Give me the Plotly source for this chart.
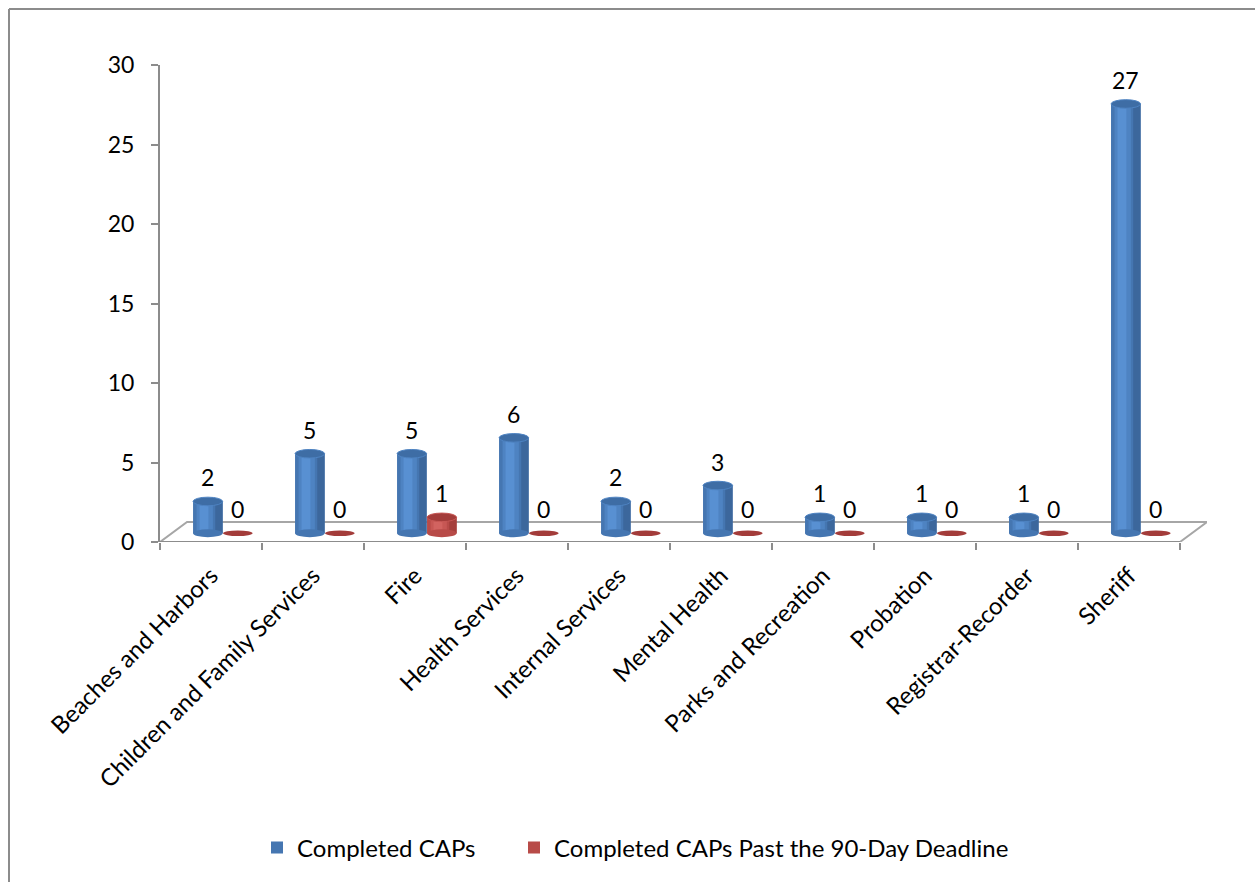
import plotly.graph_objects as go

categories = ["Beaches and Harbors", "Children and Family Services", "Fire",
              "Health Services", "Internal Services", "Mental Health",
              "Parks and Recreation", "Probation", "Registrar-Recorder", "Sheriff"]
completed = [2, 5, 5, 6, 2, 3, 1, 1, 1, 27]
past_deadline = [0, 0, 1, 0, 0, 0, 0, 0, 0, 0]
y_ticks = [0, 5, 10, 15, 20, 25, 30]

FONT = "Lato"
GRAY = "#8C8C8C"
# shading steps: edge -> centre
BLUE_STEPS = ["#3C679C", "#4576B1", "#4E83C2", "#5890D2"]
BLUE_TOP = "#3E6DA5"
RED_STEPS = ["#A53F3C", "#B84B48", "#C75754", "#D26360"]
RED_TOP = "#A33C3A"

W = 0.29          # bar width in category units
OFF_B = -0.176    # left edge offset of blue cylinder
OFF_R = 0.118     # left edge offset of red cylinder
idx = list(range(len(categories)))

fig = go.Figure()

def cyl(vals, off, steps, name, legend):
    fig.add_trace(go.Bar(x=categories, y=vals, width=W, offset=off, name=name,
                         marker=dict(color=steps[1], line=dict(width=0)),
                         yaxis="y2", showlegend=True, legend=legend))
    fig.add_trace(go.Bar(x=categories, y=vals, width=W * 0.25, offset=off + W * 0.75,
                         marker=dict(color=steps[0], line=dict(width=0)),
                         yaxis="y2", showlegend=False, hoverinfo="skip"))
    fig.add_trace(go.Bar(x=categories, y=vals, width=W * 0.55, offset=off + W * 0.12,
                         marker=dict(color=steps[2], line=dict(width=0)),
                         yaxis="y2", showlegend=False, hoverinfo="skip"))
    fig.add_trace(go.Bar(x=categories, y=vals, width=W * 0.3, offset=off + W * 0.22,
                         marker=dict(color=steps[3], line=dict(width=0)),
                         yaxis="y2", showlegend=False, hoverinfo="skip"))

cyl(completed, OFF_B, BLUE_STEPS, "Completed CAPs", "legend")
cyl(past_deadline, OFF_R, RED_STEPS, "Completed CAPs Past the 90-Day Deadline", "legend2")

shapes = []
for vals, off, steps, top in [(completed, OFF_B, BLUE_STEPS, BLUE_TOP), (past_deadline, OFF_R, RED_STEPS, RED_TOP)]:
    for i, v in zip(idx, vals):
        x0, x1 = i + off, i + off + W
        if v > 0:
            shapes.append(dict(type="circle", xref="x", yref="y2", x0=x0, x1=x1, y0=-0.25, y1=0.25,
                               fillcolor=steps[1], line=dict(width=0), layer="above"))
            shapes.append(dict(type="circle", xref="x", yref="y2", x0=x0, x1=x1, y0=v - 0.27, y1=v + 0.27,
                               fillcolor=top, line=dict(color=steps[2], width=1), layer="above"))
        else:
            shapes.append(dict(type="circle", xref="x", yref="y2", x0=x0, x1=x1, y0=-0.18, y1=0.18,
                               fillcolor=top, line=dict(width=0), layer="above"))

# floor of the 3D plot
dx, dy = 0.265, 1.26
shapes.append(dict(type="path", xref="x", yref="y",
                   path=f"M -0.5,0 L {-0.5+dx},{dy} L {9.5+dx},{dy} L 9.5,0 Z",
                   line=dict(color="#A6A6A6", width=2), layer="below"))
shapes.append(dict(type="line", xref="x", yref="y", x0=-0.5, x1=9.5, y0=0, y1=0,
                   line=dict(color=GRAY, width=2), layer="below"))
# chart border (left and top)
shapes.append(dict(type="line", xref="paper", yref="paper", x0=(9-160)/1047, x1=(9-160)/1047,
                   y0=(542-882)/477, y1=(542-9)/477, line=dict(color=GRAY, width=2)))
shapes.append(dict(type="line", xref="paper", yref="paper", x0=(9-160)/1047, x1=(1300-160)/1047,
                   y0=(542-9)/477, y1=(542-9)/477, line=dict(color=GRAY, width=2)))

annotations = []
for vals, off in [(completed, OFF_B), (past_deadline, OFF_R)]:
    for i, v in zip(idx, vals):
        annotations.append(dict(x=i + off + W / 2, y=v, xref="x", yref="y2", text=str(v),
                                showarrow=False, yshift=24, font=dict(family=FONT, size=23, color="#000000")))

legend_common = dict(orientation="h", xref="container", yref="container", xanchor="left",
                     y=1 - 848/882, yanchor="middle", font=dict(family=FONT, size=24, color="#000000"),
                     itemwidth=30, bgcolor="rgba(0,0,0,0)")

fig.update_layout(
    width=1255, height=882,
    margin=dict(l=160, r=48, t=65, b=340),
    paper_bgcolor="white", plot_bgcolor="white",
    barmode="overlay",
    font=dict(family=FONT, size=22, color="#000000"),
    xaxis=dict(type="category", range=[-0.5, 9.765], tickangle=-45, tickson="boundaries",
               ticks="outside", ticklen=7, tickcolor=GRAY, tickwidth=2,
               showline=False, showgrid=False, zeroline=False, ticklabelstandoff=14,
               tickfont=dict(family=FONT, size=24)),
    yaxis=dict(range=[0, 30], tickvals=y_ticks, ticks="outside", ticklen=7, tickcolor=GRAY,
               tickwidth=2, showline=True, linecolor=GRAY, linewidth=2, showgrid=False,
               zeroline=False, ticklabelstandoff=12, tickfont=dict(family=FONT, size=23)),
    yaxis2=dict(range=[-0.55, 29.45], overlaying="y", visible=False),
    legend=dict(legend_common, x=(272 - 15) / 1255),
    legend2=dict(legend_common, x=(527 - 13) / 1255),
    shapes=shapes, annotations=annotations,
)

fig.write_html("out.html")
